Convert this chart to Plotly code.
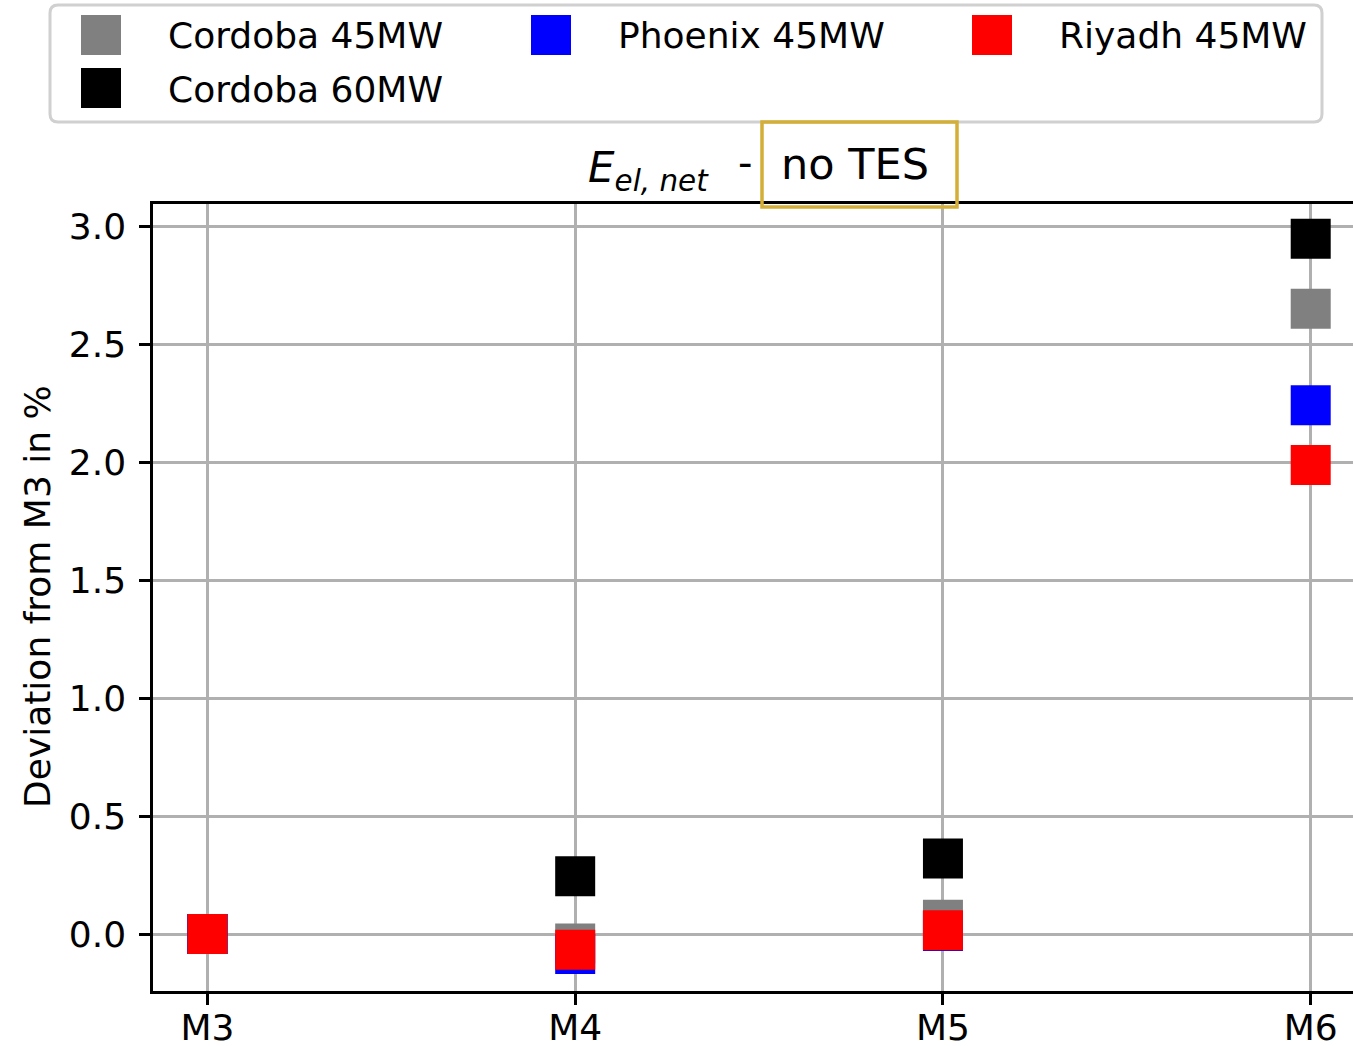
import plotly.graph_objects as go

W, H = 1353, 1046
ML, MR, MT, MB = 153, 0, 204, 55

categories = ["M3", "M4", "M5", "M6"]
series_names = ["Cordoba 45MW", "Cordoba 60MW", "Phoenix 45MW", "Riyadh 45MW"]
series_colors = ["#808080", "#000000", "#0000ff", "#ff0000"]
cordoba45 = [0.0, -0.04, 0.06, 2.652]
cordoba60 = [0.0, 0.245, 0.32, 2.949]
phoenix45 = [0.0, -0.085, 0.013, 2.243]
riyadh45 = [0.0, -0.067, 0.016, 1.989]
series_values = [cordoba45, cordoba60, phoenix45, riyadh45]
ytick_vals = [0.0, 0.5, 1.0, 1.5, 2.0, 2.5, 3.0]

FONT = "DejaVu Sans"
FS = 36

pw = W - ML - MR
ph = H - MT - MB


def px2x(px):
    return (px - ML) / pw


def py2y(py):
    return (H - MB - py) / ph


fig = go.Figure()
for name, color, vals in zip(series_names, series_colors, series_values):
    fig.add_trace(go.Scatter(
        x=categories, y=vals, mode="markers", name=name,
        marker=dict(symbol="square", size=40, color=color, line=dict(width=0)),
        showlegend=False, cliponaxis=False, hoverinfo="skip",
    ))

shapes = []
annotations = []

# legend box (rounded)
x0, x1, y0, y1, r = 50, 1322, 5, 122, 8
path = (
    f"M {px2x(x0 + r)} {py2y(y0)} L {px2x(x1 - r)} {py2y(y0)} "
    f"Q {px2x(x1)} {py2y(y0)} {px2x(x1)} {py2y(y0 + r)} "
    f"L {px2x(x1)} {py2y(y1 - r)} Q {px2x(x1)} {py2y(y1)} {px2x(x1 - r)} {py2y(y1)} "
    f"L {px2x(x0 + r)} {py2y(y1)} Q {px2x(x0)} {py2y(y1)} {px2x(x0)} {py2y(y1 - r)} "
    f"L {px2x(x0)} {py2y(y0 + r)} Q {px2x(x0)} {py2y(y0)} {px2x(x0 + r)} {py2y(y0)} Z"
)
shapes.append(dict(type="path", xref="paper", yref="paper", path=path,
                   line=dict(color="#d0d0d0", width=3), fillcolor="white", layer="above"))

legend_pos = {
    "Cordoba 45MW": (81, 35, 167),
    "Cordoba 60MW": (81, 88, 167),
    "Phoenix 45MW": (531, 35, 617),
    "Riyadh 45MW": (972, 35, 1058),
}
for name, color in zip(series_names, series_colors):
    sx, sy, tx = legend_pos[name]
    shapes.append(dict(type="rect", xref="paper", yref="paper",
                       x0=px2x(sx), x1=px2x(sx + 40), y0=py2y(sy - 20), y1=py2y(sy + 20),
                       fillcolor=color, line=dict(width=0), layer="above"))
    annotations.append(dict(text=name, xref="paper", yref="paper", x=px2x(tx - 1), y=py2y(sy + 1),
                            xanchor="left", yanchor="middle", showarrow=False,
                            font=dict(family=FONT, size=FS, color="black")))

# title
shapes.append(dict(type="rect", xref="paper", yref="paper",
                   x0=px2x(762), x1=px2x(957), y0=py2y(207), y1=py2y(122),
                   line=dict(color="#d4af37", width=3.5), fillcolor="rgba(0,0,0,0)"))
annotations.append(dict(text="no TES", xref="paper", yref="paper", x=px2x(855), y=py2y(164),
                        xanchor="center", yanchor="middle", showarrow=False,
                        font=dict(family=FONT, size=43, color="black")))
annotations.append(dict(text="<i>E</i><sub><i>el, net</i></sub>", xref="paper", yref="paper",
                        x=px2x(711), y=py2y(170), xanchor="right", yanchor="middle", showarrow=False,
                        font=dict(family=FONT, size=42, color="black")))
annotations.append(dict(text="-", xref="paper", yref="paper", x=px2x(745), y=py2y(163),
                        xanchor="center", yanchor="middle", showarrow=False,
                        font=dict(family=FONT, size=40, color="black")))

# y title
annotations.append(dict(text="Deviation from M3 in %", xref="paper", yref="paper",
                        x=px2x(37), y=py2y(597), xanchor="center", yanchor="middle",
                        textangle=-90, showarrow=False,
                        font=dict(family=FONT, size=FS, color="black")))

fig.update_layout(
    width=W, height=H,
    margin=dict(l=ML, r=MR, t=MT, b=MB, pad=0, autoexpand=False),
    plot_bgcolor="white", paper_bgcolor="white",
    font=dict(family=FONT, size=FS, color="black"),
    shapes=shapes, annotations=annotations,
    showlegend=False,
)
fig.update_xaxes(
    type="category", categoryorder="array", categoryarray=categories,
    range=[-0.148, 3.115], automargin=False,
    showline=True, linecolor="black", linewidth=2.5, mirror=True,
    ticks="outside", ticklen=11, tickwidth=2.5, tickcolor="black",
    showgrid=True, gridcolor="#b0b0b0", gridwidth=2.5,
    ticklabelstandoff=-8,
    tickfont=dict(family=FONT, size=FS, color="black"),
)
fig.update_yaxes(
    range=[-0.2417, 3.096], automargin=False,
    tickvals=ytick_vals, tickformat=".1f",
    showline=True, linecolor="black", linewidth=2.5,
    ticks="outside", ticklen=11, tickwidth=2.5, tickcolor="black",
    showgrid=True, gridcolor="#b0b0b0", gridwidth=2.5, zeroline=False,
    ticklabelstandoff=6,
    tickfont=dict(family=FONT, size=FS, color="black"),
)

fig.write_html(
    "out.html",
    config={"displayModeBar": False},
    post_script="document.body.style.margin='0px';document.body.style.overflow='hidden';",
)
